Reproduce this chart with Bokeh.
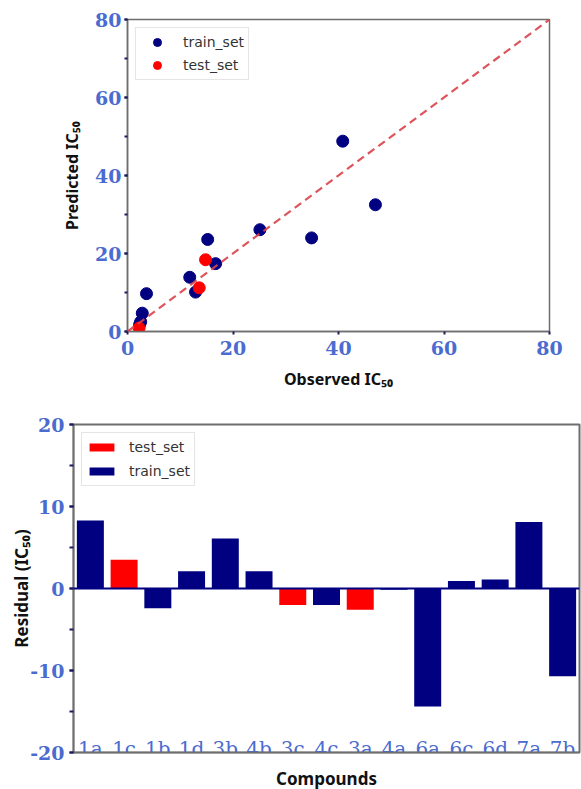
from bokeh.plotting import figure
from bokeh.models import (ColumnDataSource, SingleIntervalTicker, Slope, Span,
                          Legend, LegendItem, Range1d, FactorRange)
from bokeh.core.properties import value
from bokeh.embed import file_html
from bokeh.resources import INLINE

# ---------------- data ----------------
train_observed = [40.8, 47.0, 34.9, 25.1, 15.2, 16.7, 11.8, 12.9, 3.6, 2.8, 2.5, 2.3]
train_predicted = [48.8, 32.5, 24.0, 26.1, 23.6, 17.4, 13.9, 10.1, 9.7, 4.7, 2.5, 1.8]
test_observed = [14.8, 13.6, 2.2]
test_predicted = [18.4, 11.2, 0.9]

compounds = ["1a", "1c", "1b", "1d", "3b", "4b", "3c", "4c", "3a", "4a",
             "6a", "6c", "6d", "7a", "7b"]
residuals = [8.3, 3.5, -2.4, 2.1, 6.1, 2.1, -2.0, -2.0, -2.6, -0.15,
             -14.4, 0.9, 1.1, 8.1, -10.7]
sets = ["train", "test", "train", "train", "train", "train", "test", "train",
        "test", "train", "train", "train", "train", "train", "train"]

BLUE = "#4a6bd0"
NAVY = "#000080"
RED = "#ff0000"
TICK = "#1c1c5c"
AXIS = "#6e6e6e"
LABEL_FONT = "Noto Sans"
TICK_FONT = "DejaVu Serif"


def style_axis(ax, label_size="19px"):
    ax.axis_line_color = AXIS
    ax.axis_line_width = 1.5
    ax.major_tick_line_color = TICK
    ax.minor_tick_line_color = TICK
    ax.major_tick_line_width = 2
    ax.minor_tick_line_width = 2
    ax.major_tick_in = 0
    ax.minor_tick_in = 0
    ax.major_tick_out = 3
    ax.minor_tick_out = 3
    ax.major_label_text_font = TICK_FONT
    ax.major_label_text_font_style = "bold"
    ax.major_label_text_font_size = label_size
    ax.major_label_text_color = BLUE
    ax.axis_label_text_font = LABEL_FONT
    ax.axis_label_text_font_style = "bold"
    ax.axis_label_text_color = "#111111"


# ---------------- top: predicted vs observed ----------------
p1 = figure(frame_width=422, frame_height=312,
            x_range=Range1d(0, 80), y_range=Range1d(0, 80),
            min_border_left=127, min_border_right=32,
            min_border_top=19, min_border_bottom=69,
            output_backend="svg", toolbar_location=None)
p1.grid.visible = False
p1.outline_line_color = AXIS
p1.outline_line_width = 1.5

p1.xaxis.ticker = SingleIntervalTicker(interval=20, num_minor_ticks=0)
p1.yaxis.ticker = SingleIntervalTicker(interval=20, num_minor_ticks=2)
style_axis(p1.xaxis[0])
style_axis(p1.yaxis[0])
p1.xaxis.major_label_standoff = 6
p1.yaxis.major_label_standoff = 3
p1.xaxis.axis_label = "Observed IC₅₀"
p1.yaxis.axis_label = "Predicted IC₅₀"
p1.xaxis.axis_label_text_font_size = "16px"
p1.yaxis.axis_label_text_font_size = "16px"
p1.xaxis.axis_label_standoff = 10
p1.yaxis.axis_label_standoff = 9

p1.scatter(train_observed, train_predicted, size=12, color=NAVY,
           legend_label="train_set")
p1.scatter(test_observed, test_predicted, size=12, color=RED,
           legend_label="test_set")
p1.add_layout(Slope(gradient=1, y_intercept=0, line_color="#d9434a",
                    line_dash="8 5", line_width=2.2, line_alpha=0.9))

lg1 = p1.legend[0]
lg1.location = "top_left"
lg1.margin = 8
lg1.padding = 4
lg1.spacing = 3
lg1.label_height = 20
lg1.glyph_height = 20
lg1.glyph_width = 34
lg1.label_standoff = 9
lg1.label_text_font = "DejaVu Sans"
lg1.label_text_font_size = "14px"
lg1.label_text_color = "#333333"
lg1.border_line_color = "#cccccc"
lg1.border_line_width = 1

# ---------------- bottom: residual bars ----------------
test_idx = [i for i, s in enumerate(sets) if s == "test"]
train_idx = [i for i, s in enumerate(sets) if s == "train"]
src_test = ColumnDataSource(dict(c=[compounds[i] for i in test_idx],
                                 r=[residuals[i] for i in test_idx]))
src_train = ColumnDataSource(dict(c=[compounds[i] for i in train_idx],
                                  r=[residuals[i] for i in train_idx]))

p2 = figure(frame_width=506, frame_height=328,
            x_range=FactorRange(factors=compounds), y_range=Range1d(-20, 20),
            min_border_left=73, min_border_right=2,
            min_border_top=24, min_border_bottom=37,
            output_backend="svg", toolbar_location=None)
p2.grid.visible = False
p2.outline_line_color = AXIS
p2.outline_line_width = 2

r_test = p2.vbar(x="c", top="r", width=0.8, source=src_test,
                 fill_color=RED, line_color=None)
r_train = p2.vbar(x="c", top="r", width=0.8, source=src_train,
                  fill_color=NAVY, line_color=None)
p2.add_layout(Span(location=0, dimension="width", line_color=NAVY,
                   line_width=1.8))

p2.text(x=compounds, y=-20, text=compounds,
        text_font=value(TICK_FONT), text_font_size="20px",
        text_color=BLUE, text_align="center", text_baseline="alphabetic",
        y_offset=-4)

p2.yaxis.ticker = SingleIntervalTicker(interval=10, num_minor_ticks=2)
style_axis(p2.yaxis[0])
style_axis(p2.xaxis[0])
p2.yaxis.major_tick_out = 4
p2.yaxis.minor_tick_out = 4
p2.yaxis.major_label_standoff = 5
p2.yaxis.major_label_overrides = {-20: "-20", -10: "-10"}
p2.yaxis.axis_label = "Residual (IC₅₀)"
p2.yaxis.axis_label_text_font_size = "17px"
p2.yaxis.axis_label_standoff = -6

p2.xaxis.major_label_text_font_size = "1px"
p2.xaxis.major_label_text_alpha = 0
p2.xaxis.major_label_standoff = 0
p2.xaxis.major_tick_line_color = None
p2.xaxis.major_tick_out = 0
p2.xaxis.axis_label = "Compounds"
p2.xaxis.axis_label_text_font_size = "17px"
p2.xaxis.axis_label_standoff = 14

lg2 = Legend(items=[LegendItem(label="test_set", renderers=[r_test]),
                    LegendItem(label="train_set", renderers=[r_train])],
             location="top_left")
lg2.margin = 8
lg2.padding = 4
lg2.spacing = 4
lg2.label_height = 20
lg2.glyph_height = 10
lg2.glyph_width = 31
lg2.label_standoff = 12
lg2.label_text_font = "DejaVu Sans"
lg2.label_text_font_size = "14px"
lg2.label_text_color = "#333333"
lg2.border_line_color = "#cccccc"
lg2.border_line_width = 1
p2.add_layout(lg2)

open("out.html", "w").write(file_html([p1, p2], INLINE))
